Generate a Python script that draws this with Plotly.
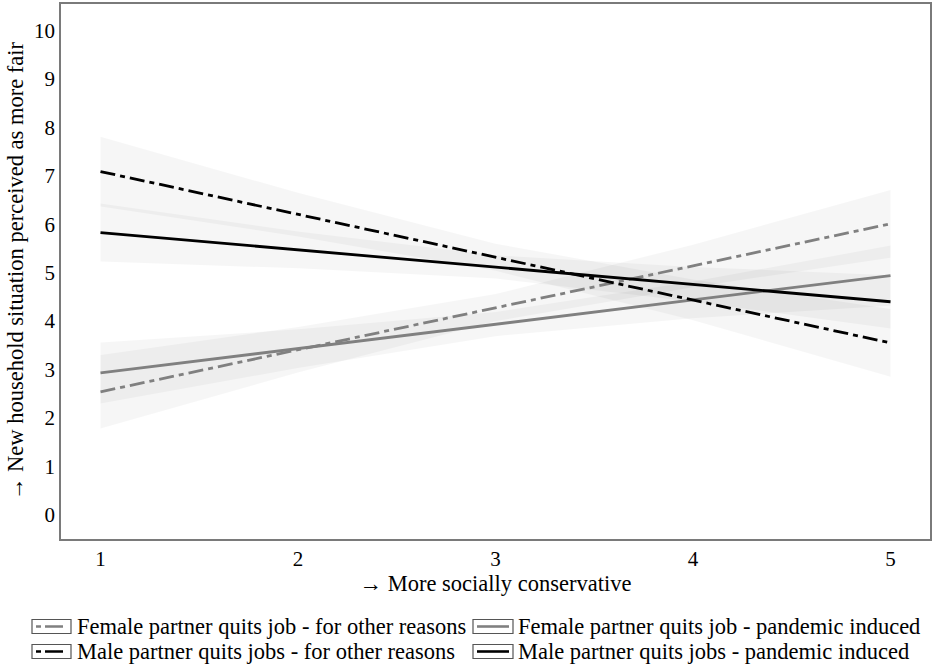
import plotly.graph_objects as go

# ── data ──
x_ends = [1, 5]
x_band = [1, 2, 3, 4, 5]

female_other = [2.54, 6.01]
female_other_lo = [1.78, 2.94, 4.00, 4.70, 5.31]
female_other_hi = [3.30, 3.88, 4.56, 5.58, 6.71]

female_pand = [2.93, 4.94]
female_pand_lo = [2.30, 3.03, 3.69, 4.06, 4.32]
female_pand_hi = [3.56, 3.83, 4.19, 4.82, 5.56]

male_other = [7.09, 3.55]
male_other_lo = [6.37, 5.75, 5.04, 4.02, 2.85]
male_other_hi = [7.81, 6.65, 5.60, 4.86, 4.25]

male_pand = [5.83, 4.40]
male_pand_lo = [5.23, 5.09, 4.88, 4.40, 3.85]
male_pand_hi = [6.43, 5.85, 5.36, 5.12, 4.95]

labels = [
    "Female partner quits job - for other reasons",
    "Female partner quits job - pandemic induced",
    "Male partner quits jobs - for other reasons",
    "Male partner quits jobs - pandemic induced",
]

GREY = "#808080"
DASHDOT = "15px,5px,5px,5px"
FONT = "Liberation Serif, Times New Roman, DejaVu Serif, serif"
TXT = 22.5   # labels / titles
TCK = 21     # tick labels

series = [
    (female_other, female_other_lo, female_other_hi, GREY, DASHDOT),
    (female_pand, female_pand_lo, female_pand_hi, GREY, "solid"),
    (male_other, male_other_lo, male_other_hi, "black", DASHDOT),
    (male_pand, male_pand_lo, male_pand_hi, "black", "solid"),
]

fig = go.Figure()

# ── confidence bands first ──
for _, lo, hi, _, _ in series:
    fig.add_trace(go.Scatter(x=x_band, y=hi, mode="lines",
                             line=dict(width=0), showlegend=False,
                             hoverinfo="skip"))
    fig.add_trace(go.Scatter(x=x_band, y=lo, mode="lines",
                             line=dict(width=0), fill="tonexty",
                             fillcolor="rgba(0,0,0,0.037)",
                             showlegend=False, hoverinfo="skip"))

# ── fitted lines ──
for (y, _, _, color, dash), name in zip(series, labels):
    fig.add_trace(go.Scatter(x=x_ends, y=y, mode="lines", name=name,
                             line=dict(color=color, width=2.8, dash=dash),
                             showlegend=False))

# ── hand-made legend (boxed keys like the original) ──
W, H = 935, 672
L, R, T, B = 61, 5, 4, 133
pw, ph = W - L - R, H - T - B


def px(xp):
    return (xp - L) / pw


def py(yp):
    return (H - B - yp) / ph


shapes = []
annotations = []
cols = [(32, 71, 75), (473, 513, 516)]   # box left, box right, text x
rows = [626.5, 651.5]
for i, ((_, _, _, color, dash), name) in enumerate(zip(series, labels)):
    r, c = divmod(i, 2)
    bl, br, tx = cols[c]
    yc = rows[r]
    shapes.append(dict(type="rect", xref="paper", yref="paper",
                       x0=px(bl), x1=px(br), y0=py(yc - 7), y1=py(yc + 7),
                       line=dict(color="#555555", width=1.2),
                       fillcolor="white"))
    shapes.append(dict(type="line", xref="paper", yref="paper",
                       x0=px(bl + 4), x1=px(br - 4), y0=py(yc), y1=py(yc),
                       line=dict(color=color, width=2.6,
                                 dash="5px,4px,18px,4px" if dash != "solid" else "solid")))
    annotations.append(dict(text=name, xref="paper", yref="paper",
                            x=px(tx), y=py(yc), xanchor="left",
                            yanchor="middle", showarrow=False,
                            font=dict(family=FONT, size=TXT, color="black")))

# y-axis title placed by hand so the plot edge stays at 61 px
annotations.append(dict(text="\u2192 New household situation perceived as more fair",
                        xref="paper", yref="paper", x=px(15), y=py(271),
                        xanchor="center", yanchor="middle", textangle=-90,
                        showarrow=False,
                        font=dict(family=FONT, size=TXT, color="black")))

fig.update_layout(
    width=W, height=H,
    margin=dict(l=L, r=R, t=T, b=B),
    plot_bgcolor="white", paper_bgcolor="white",
    font=dict(family=FONT, size=TXT, color="black"),
    showlegend=False,
    xaxis=dict(range=[0.8, 5.2], tickvals=[1, 2, 3, 4, 5],
               showgrid=False, zeroline=False, automargin=False,
               showline=True, linecolor="#7a7a7a", linewidth=1.5, mirror=True,
               ticks="", tickfont=dict(family=FONT, size=TCK),
               title=dict(text="\u2192 More socially conservative",
                          font=dict(family=FONT, size=TXT), standoff=4)),
    yaxis=dict(range=[-0.5, 10.55], tickvals=list(range(0, 11)),
               showgrid=False, zeroline=False, automargin=False,
               showline=True, linecolor="#7a7a7a", linewidth=1.5, mirror=True,
               ticks="", tickfont=dict(family=FONT, size=TCK)),
    shapes=shapes,
    annotations=annotations,
)

# page body margin would push the figure 8 px right/down
fig.write_html("out.html", config={"displayModeBar": False},
               post_script="document.body.style.margin='0';")
